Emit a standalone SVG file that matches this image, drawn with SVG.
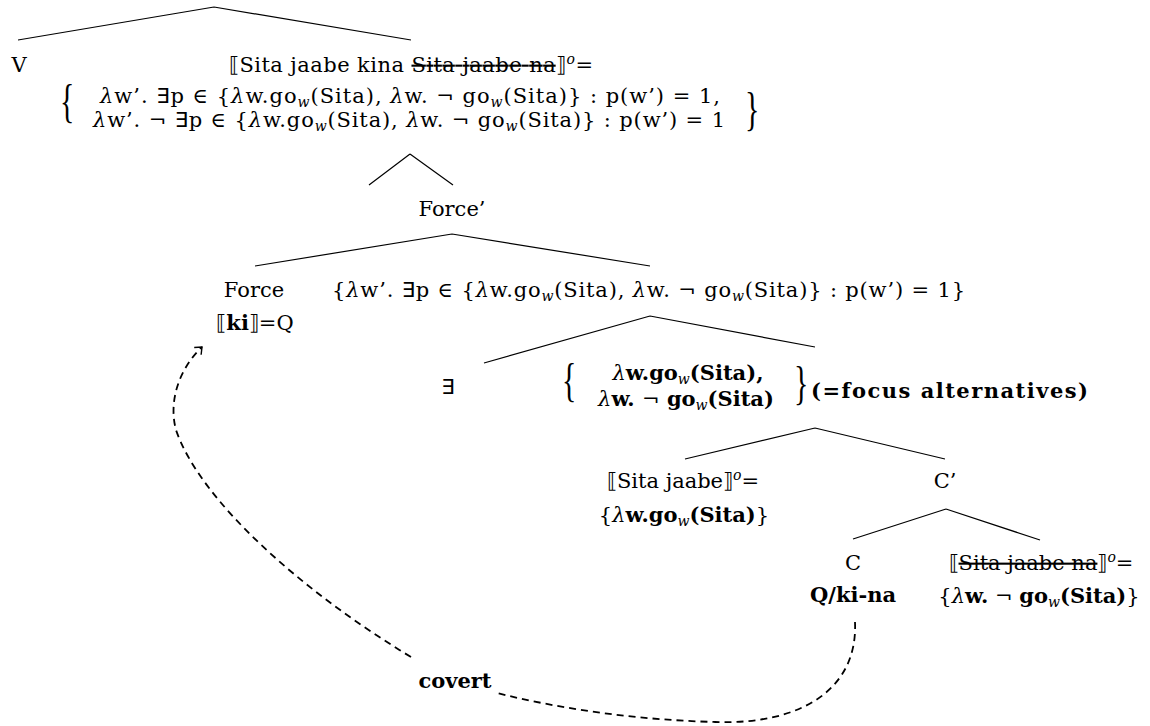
<svg xmlns="http://www.w3.org/2000/svg" width="1150" height="726" viewBox="0 0 1150 726">
<defs>
<style>
text{font-family:"DejaVu Serif","Liberation Serif",serif;font-size:21px;fill:#000}
.b{font-weight:bold}
.l{font-style:italic;font-weight:normal}
.sub{font-size:14px;font-style:italic;font-weight:normal}
.s{text-decoration:line-through}
.br{font-family:"Liberation Serif",serif;font-size:46px;font-weight:normal}
.x{font-family:"DejaVu Sans",sans-serif}
.e{stroke:#000;stroke-width:1.2;fill:none}
.d{stroke:#000;stroke-width:1.8;fill:none;stroke-dasharray:7 5}
</style>
<marker id="ah" viewBox="-10 -8 12 16" markerWidth="12" markerHeight="16" refX="0" refY="0" orient="auto" markerUnits="userSpaceOnUse">
<path d="M-6,-5 L0,0 L-6,5" fill="none" stroke="#000" stroke-width="1.4"/>
</marker>
</defs>
<rect width="1150" height="726" fill="#fff"/>

<g id="connectors">
<path class="e" d="M214,7 L18,40 M214,7 L411,40"/>
<path class="e" d="M410,154 L369,185 M410,154 L453,185"/>
<path class="e" d="M452,234 L255,266 M452,234 L650,266"/>
<path class="e" d="M650,316 L484,363 M650,316 L815,347"/>
<path class="e" d="M815,428 L685,459 M815,428 L945,459"/>
<path class="e" d="M946,509 L853,539 M946,509 L1040,540"/>
<path class="d" d="M855,622 C858,690 800,725 715,722 C640,720 565,710 497,693"/>
<path class="d" d="M411,657 C300,590 200,500 176,430 C168,400 180,368 202,347" marker-end="url(#ah)"/>
</g>

<g id="node-v"><text x="19" y="72" text-anchor="middle">V</text></g>

<g id="node-root">
<text x="229" y="72" textLength="364">⟦Sita jaabe kina <tspan class="s">Sita jaabe na</tspan>⟧<tspan class="sub" dy="-8">o</tspan><tspan dy="8">=</tspan></text>
<text class="br" transform="translate(60,117) scale(0.65,1)">{</text>
<text x="100" y="103" textLength="620"><tspan class="l">λ</tspan>w’. <tspan class="x">∃</tspan>p ∈ {<tspan class="l">λ</tspan>w.go<tspan class="sub" dy="4">w</tspan><tspan dy="-4">(Sita), </tspan><tspan class="l">λ</tspan>w. ¬ go<tspan class="sub" dy="4">w</tspan><tspan dy="-4">(Sita)} : p(w’) = 1,</tspan></text>
<text x="93" y="127" textLength="632"><tspan class="l">λ</tspan>w’. ¬ <tspan class="x">∃</tspan>p ∈ {<tspan class="l">λ</tspan>w.go<tspan class="sub" dy="4">w</tspan><tspan dy="-4">(Sita), </tspan><tspan class="l">λ</tspan>w. ¬ go<tspan class="sub" dy="4">w</tspan><tspan dy="-4">(Sita)} : p(w’) = 1</tspan></text>
<text class="br" transform="translate(745,125) scale(0.65,1)">}</text>
</g>

<g id="node-forcebar"><text x="452" y="216" text-anchor="middle">Force’</text></g>

<g id="node-force">
<text x="254" y="297" text-anchor="middle">Force</text>
<text x="255" y="330" text-anchor="middle">⟦<tspan class="b">ki</tspan>⟧=Q</text>
</g>

<g id="node-forcesister">
<text x="332" y="297" textLength="633">{<tspan class="l">λ</tspan>w’. <tspan class="x">∃</tspan>p ∈ {<tspan class="l">λ</tspan>w.go<tspan class="sub" dy="4">w</tspan><tspan dy="-4">(Sita), </tspan><tspan class="l">λ</tspan>w. ¬ go<tspan class="sub" dy="4">w</tspan><tspan dy="-4">(Sita)} : p(w’) = 1}</tspan></text>
</g>

<g id="node-exists"><text class="x" x="448" y="394" text-anchor="middle" font-size="24">∃</text></g>

<g id="node-alternatives">
<text class="br" transform="translate(562,396) scale(0.65,1)">{</text>
<text class="b" x="688" y="380" text-anchor="middle"><tspan class="l">λ</tspan>w.go<tspan class="sub" dy="4">w</tspan><tspan dy="-4">(Sita),</tspan></text>
<text class="b" x="686" y="406" text-anchor="middle"><tspan class="l">λ</tspan>w. <tspan font-weight="normal">¬</tspan> go<tspan class="sub" dy="4">w</tspan><tspan dy="-4">(Sita)</tspan></text>
<text class="br" transform="translate(794,399) scale(0.65,1)">}</text>
<text class="b" x="811" y="398" textLength="277">(=focus alternatives)</text>
</g>

<g id="node-sitajaabe">
<text x="683" y="488" text-anchor="middle">⟦Sita jaabe⟧<tspan class="sub" dy="-8">o</tspan><tspan dy="8">=</tspan></text>
<text x="684" y="522" text-anchor="middle">{<tspan class="l">λ</tspan><tspan class="b">w.go</tspan><tspan class="sub" dy="4">w</tspan><tspan class="b" dy="-4">(Sita)</tspan>}</text>
</g>

<g id="node-cbar"><text x="945" y="488" text-anchor="middle">C’</text></g>

<g id="node-c">
<text x="853" y="570" text-anchor="middle">C</text>
<text class="b" x="853" y="602" text-anchor="middle">Q/ki-na</text>
</g>

<g id="node-sitajaabena">
<text x="1041" y="570" text-anchor="middle">⟦<tspan class="s">Sita jaabe na</tspan>⟧<tspan class="sub" dy="-8">o</tspan><tspan dy="8">=</tspan></text>
<text x="1039" y="603" text-anchor="middle">{<tspan class="l">λ</tspan><tspan class="b">w.</tspan> ¬ <tspan class="b">go</tspan><tspan class="sub" dy="4">w</tspan><tspan class="b" dy="-4">(Sita)</tspan>}</text>
</g>

<g id="label-covert"><text class="b" x="455" y="688" text-anchor="middle">covert</text></g>
</svg>
